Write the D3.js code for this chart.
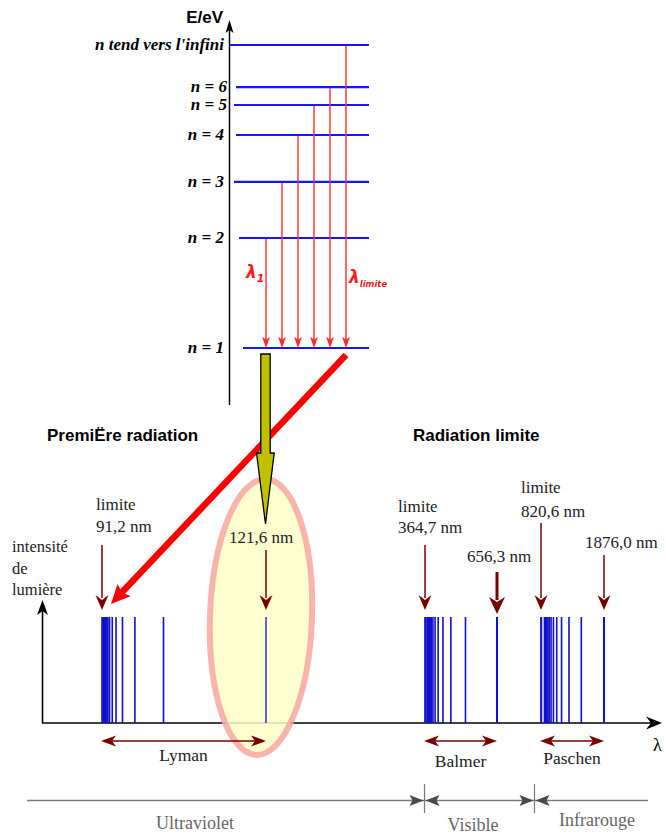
<!DOCTYPE html>
<html><head><meta charset="utf-8">
<script src="https://cdn.jsdelivr.net/npm/d3@7"></script>
<style>body{margin:0;background:#fff}</style>
</head><body><svg id="c" width="666" height="835"></svg>
<script>
// ---------- data ----------
const levelLabels = ["n tend vers l'infini","n = 6","n = 5","n = 4","n = 3","n = 2","n = 1"];
const levelHeights = [100, 86.1, 80.2, 70.3, 54.8, 36.3, 0]; // schematic height on the diagram (%)
const transitionsFrom = ["n = 2","n = 3","n = 4","n = 5","n = 6","n tend vers l'infini"];
const seriesNames = ["Lyman","Balmer","Paschen"];
const seriesLimits = [91.2, 364.7, 820.6];
const lymanLines = [121.6,102.6,97.3,95.0,93.8,93.1,92.6,92.3,92.1,91.9,91.8,91.7,91.6,91.5,91.4];
const balmerLines = [656.3,486.1,434.0,410.2,397.0,388.9,383.5,379.8,377.1,375.0,373.4,372.2,371.2,370.4,369.7];
const paschenLines = [1875.1,1281.8,1093.8,1004.9,954.6,922.9,901.5,886.3,875.0,866.5,859.8,854.5,850.2,846.7];
const annotWavelengths = [91.2,121.6,364.7,656.3,820.6,1875.1];
const annotLabels = [["limite","91,2 nm"],["121,6 nm"],["limite","364,7 nm"],["656,3 nm"],["limite","820,6 nm"],["1876,0 nm"]];
const domainNames = ["Ultraviolet","Visible","Infrarouge"];
const titles = ["PremiËre radiation","Radiation limite"];

// ---------- setup ----------
const svg = d3.select("#c");
const SERIF = "'Liberation Serif','Times New Roman',serif";
const SANS = "'Liberation Sans',Arial,sans-serif";
const DARKRED = "#7a0000";

const layerAxes = svg.append("g");
const layerHalo = svg.append("g");
const layerMarks = svg.append("g");
const layerTop = svg.append("g");

function head(g, x, y, ang, len, hw, notch, color){
  return g.append("path")
    .attr("d", `M0,0L${-len},${-hw}L${-len+notch},0L${-len},${hw}Z`)
    .attr("transform", `translate(${x},${y}) rotate(${ang})`)
    .attr("fill", color);
}

// ---------- energy diagram ----------
const yLevel = d3.scaleLinear().domain([0,100]).range([348,45]);
const levelStart = [230,236,234,236,234,239,243];
const xTrans = d3.scalePoint().domain(transitionsFrom).range([266,346]);
const gE = layerMarks.append("g");

gE.append("line").attr("x1",229.5).attr("x2",229.5).attr("y1",405).attr("y2",30)
  .attr("stroke","#000").attr("stroke-width",1.5);
gE.append("path").attr("d","M229.5,20L233.5,33L229.5,30L225.5,33Z").attr("fill","#000");
gE.append("text").attr("x",223).attr("y",23).attr("text-anchor","end")
  .attr("font-family",SANS).attr("font-weight","bold").attr("font-size",17).text("E/eV");

levelLabels.forEach((lab,i)=>{
  const y = yLevel(levelHeights[i]);
  gE.append("line").attr("x1",levelStart[i]).attr("x2",369).attr("y1",y).attr("y2",y)
    .attr("stroke","#1414ff").attr("stroke-width",2.2);
  gE.append("text").attr("x",i===0?224:(i<3?227:224)).attr("y",y+5).attr("text-anchor","end")
    .attr("font-family",SERIF).attr("font-style","italic").attr("font-weight","bold")
    .attr("font-size",17).text(lab);
});

transitionsFrom.forEach(from=>{
  const i = levelLabels.indexOf(from);
  const x = xTrans(from);
  const y0 = yLevel(levelHeights[i]) + 1;
  const y1 = yLevel(levelHeights[levelLabels.length-1]);
  gE.append("line").attr("x1",x).attr("x2",x).attr("y1",y0).attr("y2",y1-8)
    .attr("stroke","#ff2a2a").attr("stroke-width",1.4);
  head(gE, x, y1, 90, 11, 3.8, 2.5, "#ff2a2a");
});

const l1 = gE.append("text").attr("x",246).attr("y",278).attr("fill","#ff1a1a")
  .attr("font-family","'DejaVu Sans',sans-serif").attr("font-style","italic").attr("font-weight","bold");
l1.append("tspan").attr("font-size",17).text("λ");
l1.append("tspan").attr("font-size",11).attr("dy",4).text("1");
const l2 = gE.append("text").attr("x",349).attr("y",283).attr("fill","#ff1a1a")
  .attr("font-family","'DejaVu Sans',sans-serif").attr("font-style","italic").attr("font-weight","bold");
l2.append("tspan").attr("font-size",17).text("λ");
l2.append("tspan").attr("font-size",8.5).attr("dy",4).text("limite");

// ---------- titles ----------
layerMarks.append("text").attr("x",47).attr("y",441).attr("font-family",SANS).attr("font-weight","bold")
  .attr("font-size",17).text(titles[0]);
layerMarks.append("text").attr("x",413).attr("y",441).attr("font-family",SANS).attr("font-weight","bold")
  .attr("font-size",17).text(titles[1]);

// ---------- spectrum ----------
const xLyman = d3.scaleLinear().domain([91.2,121.6]).range([102,266]);
const xBalmer = d3.scaleLinear().domain([1/364.7,1/656.3]).range([425,497]);
const xPaschen = d3.scaleLinear().domain([1/820.6,1/1875.1]).range([541,604]);
function xOf(l){ if(l<200) return xLyman(l); if(l<800) return xBalmer(1/l); return xPaschen(1/l); }
const yBase = 723, yTop = 617;

// axes
layerAxes.append("line").attr("x1",42.5).attr("x2",42.5).attr("y1",yBase).attr("y2",610)
  .attr("stroke","#000").attr("stroke-width",1.6);
head(layerAxes, 42.5, 600, -90, 15, 5.5, 4, "#000");
layerAxes.append("line").attr("x1",42).attr("x2",652).attr("y1",yBase).attr("y2",yBase)
  .attr("stroke","#000").attr("stroke-width",1.6);
head(layerAxes, 662, yBase, 0, 16, 6.5, 5, "#000");
layerAxes.append("text").attr("x",653).attr("y",751).attr("font-family",SERIF).attr("font-size",18).text("λ");

["intensité","de","lumière"].forEach((t,i)=>{
  layerAxes.append("text").attr("x",12).attr("y",552+i*21.5).attr("font-family",SERIF)
    .attr("font-size",16.5).attr("fill","#222").text(t);
});

// ellipse highlight
layerHalo.append("ellipse").attr("cx",261).attr("cy",617).attr("rx",51).attr("ry",138)
  .attr("transform","rotate(2,261,617)")
  .attr("fill","#ffffc8").attr("fill-opacity",0.85)
  .attr("stroke","#f7a8a0").attr("stroke-width",6).attr("stroke-opacity",0.85);

// spectral lines
const allSeries = [lymanLines, balmerLines, paschenLines];
allSeries.forEach((lines,si)=>{
  const pts = lines.concat([seriesLimits[si], seriesLimits[si]*1.004]);
  layerMarks.selectAll(null).data(pts).enter().append("line")
    .attr("x1",d=>xOf(d)).attr("x2",d=>xOf(d)).attr("y1",yTop).attr("y2",yBase)
    .attr("stroke","#1010d0").attr("stroke-width",(d,i)=> i===0 ? (si===0?1.3:2) : 1.6);
});

// annotation arrows
const annLayout = [
  {tx:96, ty:[510,532], top:545, tip:610, big:false},
  {tx:229, ty:[543], top:550, tip:610, big:false},
  {tx:398, ty:[512,533], top:545, tip:610, big:false},
  {tx:467, ty:[562], top:572, tip:614, big:true},
  {tx:521, ty:[493,517], top:523, tip:610, big:false},
  {tx:585, ty:[548], top:555, tip:610, big:false}
];
annotWavelengths.forEach((w,i)=>{
  const L = annLayout[i], x = xOf(w);
  const len = L.big?17:15;
  layerMarks.append("line").attr("x1",x).attr("x2",x).attr("y1",L.top).attr("y2",L.tip-len+3)
    .attr("stroke",DARKRED).attr("stroke-width",L.big?3:1.5);
  head(layerMarks, x, L.tip, 90, len, L.big?8:6.5, 5, DARKRED);
  annotLabels[i].forEach((t,j)=>{
    layerMarks.append("text").attr("x",L.tx).attr("y",L.ty[j]).attr("font-family",SERIF)
      .attr("font-size",17).attr("fill","#222").text(t);
  });
});

// series ranges
const seriesFirst = [121.6, 656.3, 1875.1];
const seriesLabelY = [761, 767, 764];
seriesNames.forEach((n,i)=>{
  const xa = xOf(seriesLimits[i]) - 1, xb = xOf(seriesFirst[i]);
  layerMarks.append("line").attr("x1",xa+10).attr("x2",xb-10).attr("y1",741).attr("y2",741)
    .attr("stroke",DARKRED).attr("stroke-width",1.6);
  head(layerMarks, xa, 741, 180, 15, 5.5, 4, DARKRED);
  head(layerMarks, xb, 741, 0, 15, 5.5, 4, DARKRED);
  layerMarks.append("text").attr("x",(xa+xb)/2).attr("y",seriesLabelY[i]).attr("text-anchor","middle")
    .attr("font-family",SERIF).attr("font-size",17.5).attr("fill","#222").text(n);
});

// domain band
const bandY = 800.5;
const bandBounds = [xOf(seriesLimits[1]) - 0.5, xOf(seriesLimits[2]) - 6.5];
layerMarks.append("line").attr("x1",27).attr("x2",648).attr("y1",bandY).attr("y2",bandY)
  .attr("stroke","#7a7a7a").attr("stroke-width",1.5);
bandBounds.forEach(bx=>{
  layerMarks.append("line").attr("x1",bx).attr("x2",bx).attr("y1",784).attr("y2",813)
    .attr("stroke","#7a7a7a").attr("stroke-width",1.2);
  head(layerMarks, bx-1, bandY, 0, 14, 5.5, 3, "#4a4a4a");
  head(layerMarks, bx+1, bandY, 180, 14, 5.5, 3, "#4a4a4a");
});
const domainX = [195, 473, 597], domainY = [829, 831, 826];
domainNames.forEach((n,i)=>{
  layerMarks.append("text").attr("x",domainX[i]).attr("y",domainY[i]).attr("text-anchor","middle")
    .attr("font-family",SERIF).attr("font-size",18).attr("fill","#666").text(n);
});

// big red arrow
const p0 = [xTrans("n tend vers l'infini"), 355], p1 = [111, 604];
const ang = Math.atan2(p1[1]-p0[1], p1[0]-p0[0]);
layerTop.append("line").attr("x1",p0[0]).attr("y1",p0[1])
  .attr("x2",p1[0]-Math.cos(ang)*14).attr("y2",p1[1]-Math.sin(ang)*14)
  .attr("stroke","#ff0000").attr("stroke-width",6.5);
head(layerTop, p1[0], p1[1], ang*180/Math.PI, 19, 9, 3, "#ff0000");

// yellow arrow
const xa = xTrans("n = 2") - 0.5;
layerTop.append("path")
  .attr("d",`M${xa-4.7},354L${xa+4.7},354L${xa+4.7},453L${xa+8.7},453L${xa},524L${xa-9},453L${xa-4.7},453Z`)
  .attr("fill","#c0c000").attr("stroke","#000").attr("stroke-width",1.3).attr("stroke-linejoin","miter");
</script></body></html>
